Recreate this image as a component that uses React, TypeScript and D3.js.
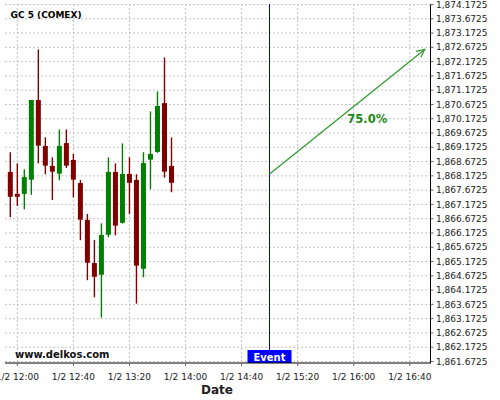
import React from "react";
import * as d3 from "d3";

const title = "GC 5 (COMEX)";
const candleTimes = [
  "11:55", "12:00", "12:05", "12:10", "12:15", "12:20", "12:25", "12:30",
  "12:35", "12:40", "12:45", "12:50", "12:55", "13:00", "13:05", "13:10",
  "13:15", "13:20", "13:25", "13:30", "13:35", "13:40", "13:45", "13:50",
];
const opens = [
  1868.31, 1867.54, 1867.54, 1868.04, 1870.83, 1869.22, 1868.52, 1868.25,
  1869.32, 1868.73, 1867.92, 1866.63, 1865.12, 1864.71, 1866.11, 1868.31,
  1866.53, 1868.24, 1868.03, 1864.92, 1868.74, 1869.01, 1870.72, 1868.52,
];
const highs = [
  1869.0, 1868.61, 1868.4, 1870.83, 1872.6, 1869.52, 1868.82, 1869.8,
  1869.8, 1868.94, 1868.03, 1866.84, 1865.93, 1866.51, 1868.82, 1868.61,
  1869.31, 1868.82, 1868.23, 1869.0, 1870.43, 1871.13, 1872.32, 1869.52,
];
const lows = [
  1866.73, 1867.12, 1867.0, 1867.51, 1868.61, 1868.23, 1867.33, 1868.02,
  1868.45, 1867.42, 1865.92, 1864.52, 1863.92, 1863.21, 1866.02, 1866.09,
  1866.5, 1866.83, 1863.7, 1864.62, 1867.7, 1868.98, 1868.11, 1867.6,
];
const closes = [
  1867.44, 1867.44, 1868.13, 1870.83, 1869.23, 1868.53, 1868.32, 1869.22,
  1868.53, 1868.04, 1866.64, 1865.13, 1864.64, 1866.1, 1868.31, 1866.43,
  1868.24, 1867.93, 1865.03, 1868.62, 1868.94, 1870.62, 1868.32, 1867.93,
];
const xTickTimes = ["12:00", "12:40", "13:20", "14:00", "14:40", "15:20", "16:00", "16:40"];
const yTickValues = d3.range(26).map((i) => 1861.6725 + 0.5 * i);
const eventTime = "15:00";
const eventLabel = "Event";
const arrowStart = { time: "15:00", price: 1868.24 };
const arrowEnd = { time: "16:50:40", price: 1872.6 };
const arrowLabel = "75.0%";
const arrowLabelPos = { time: "16:09:40", price: 1870.17 };
const watermark = "www.delkos.com";
const xTitle = "Date";

const t = (s: string) => {
  const p = s.split(":").map(Number);
  return new Date(2020, 0, 2, p[0], p[1], p[2] || 0);
};

const W = 500;
const H = 400;
const left = 5;
const right = 430.5;
const top = 4;
const bottom = 363;

const font = "DejaVu Sans, Verdana, sans-serif";

export default function App() {
  const x = d3
    .scaleTime()
    .domain([t("11:51:13"), t("16:54:47")])
    .range([left, right]);
  const y = d3
    .scaleLinear()
    .domain([1861.6725, 1874.1725])
    .range([361.5, 4.5]);
  const fmtY = d3.format(",.4f");
  const fmtX = d3.timeFormat("%-m/%-d %H:%M");
  const bw = 5;
  const ex = Math.floor(x(t(eventTime))) + 0.5;
  const ax1 = x(t(arrowStart.time));
  const ay1 = y(arrowStart.price);
  const ax2 = x(t(arrowEnd.time));
  const ay2 = y(arrowEnd.price);
  const ang = Math.atan2(ay2 - ay1, ax2 - ax1);
  const hl = 9;
  const ha = Math.PI / 7;
  const h1 = [ax2 - hl * Math.cos(ang - ha), ay2 - hl * Math.sin(ang - ha)];
  const h2 = [ax2 - hl * Math.cos(ang + ha), ay2 - hl * Math.sin(ang + ha)];
  const green = "#008000";
  const red = "#800000";

  return (
    <svg
      width={W}
      height={H}
      style={{ position: "absolute", left: 0, top: 0, background: "#fff" }}
      fontFamily={font}
    >
      <rect x={0} y={0} width={W} height={H} fill="#fff" />
      {/* grid */}
      {yTickValues.map((v, i) => (
        <line
          key={"gy" + i}
          x1={left}
          x2={right}
          y1={y(v)}
          y2={y(v)}
          stroke="#c4c4c4"
          strokeDasharray="2,2"
          strokeWidth={1}
        />
      ))}
      {xTickTimes.map((s, i) => (
        <line
          key={"gx" + i}
          x1={x(t(s))}
          x2={x(t(s))}
          y1={top}
          y2={bottom}
          stroke="#c4c4c4"
          strokeDasharray="2,2"
          strokeWidth={1}
        />
      ))}
      {/* candles */}
      {candleTimes.map((s, i) => {
        const cx = x(t(s));
        const up = closes[i] >= opens[i];
        const col = up ? green : red;
        const yt = y(Math.max(opens[i], closes[i]));
        const yb = y(Math.min(opens[i], closes[i]));
        return (
          <g key={"c" + i}>
            <line x1={cx} x2={cx} y1={y(highs[i])} y2={y(lows[i])} stroke={col} strokeWidth={1.4} />
            <rect x={cx - bw / 2} y={yt} width={bw} height={Math.max(1.5, yb - yt)} fill={col} />
          </g>
        );
      })}
      {/* event line */}
      <line x1={ex} x2={ex} y1={top} y2={bottom} stroke="#0000ff" strokeWidth={1} />
      <rect x={ex - 22} y={350} width={44} height={13} fill="#0000ff" />
      <text x={ex} y={360.5} textAnchor="middle" fontSize={10} fontWeight="bold" fill="#fff">
        {eventLabel}
      </text>
      {/* arrow */}
      <line x1={ax1} y1={ay1} x2={ax2} y2={ay2} stroke="#2e9a2e" strokeWidth={1.2} />
      <polyline
        points={`${h1[0]},${h1[1]} ${ax2},${ay2} ${h2[0]},${h2[1]}`}
        fill="none"
        stroke="#2e9a2e"
        strokeWidth={1.2}
      />
      <text
        x={x(t(arrowLabelPos.time))}
        y={y(arrowLabelPos.price)}
        dy="0.36em"
        textAnchor="middle"
        fontSize={11.5}
        fontWeight="bold"
        fill="#1a8a1a"
      >
        {arrowLabel}
      </text>
      {/* axes */}
      <line x1={right} x2={right} y1={top} y2={bottom + 0.5} stroke="#000" strokeWidth={1} />
      <line x1={left} x2={right} y1={bottom} y2={bottom} stroke="#000" strokeWidth={1} />
      {yTickValues.map((v, i) => (
        <g key={"ty" + i}>
          <line x1={right} x2={right + 3} y1={y(v)} y2={y(v)} stroke="#666" />
          <text x={436} y={y(v)} dy="0.35em" fontSize={9} fill="#222">
            {fmtY(v)}
          </text>
        </g>
      ))}
      {xTickTimes.map((s, i) => (
        <g key={"tx" + i}>
          <line x1={x(t(s))} x2={x(t(s))} y1={bottom} y2={bottom + 3} stroke="#666" />
          <text x={x(t(s))} y={380} textAnchor="middle" fontSize={9} fill="#222">
            {fmtX(t(s))}
          </text>
        </g>
      ))}
      <text x={217} y={394} textAnchor="middle" fontSize={12} fontWeight="bold" fill="#222">
        {xTitle}
      </text>
      <text x={10.5} y={18} fontSize={9} fontWeight="bold" fill="#000">
        {title}
      </text>
      <text x={15} y={357.5} fontSize={10} fontWeight="bold" fill="#111">
        {watermark}
      </text>
    </svg>
  );
}
